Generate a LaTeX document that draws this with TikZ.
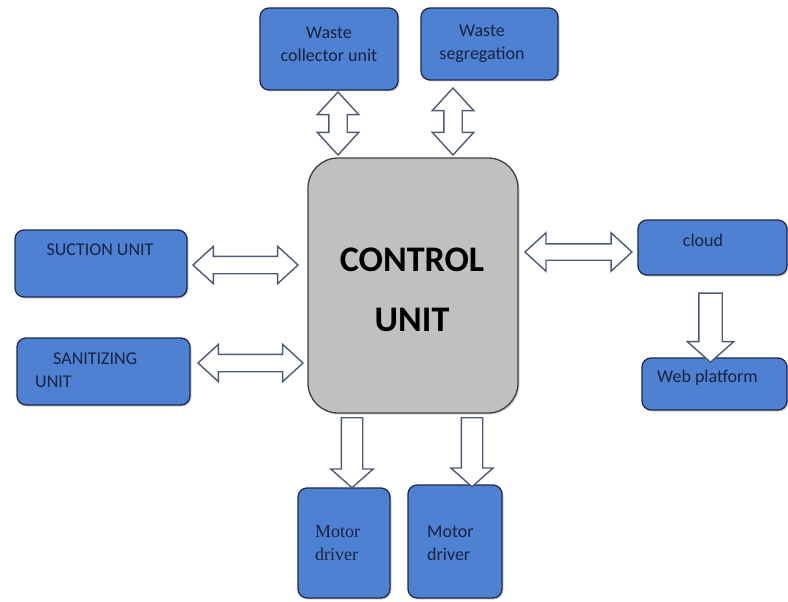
\documentclass[tikz,border=0pt]{standalone}
\usepackage{fontspec}
\setmainfont{Carlito}
\newfontfamily\serifrm{Liberation Serif}
\usetikzlibrary{shapes.arrows,shadows}

\definecolor{boxblue}{RGB}{79,129,210}
\definecolor{boxline}{RGB}{30,42,72}
\definecolor{textnavy}{RGB}{24,34,66}
\definecolor{arrowline}{RGB}{78,92,112}
\definecolor{ctrlgray}{RGB}{192,192,192}

\tikzset{
  unitbox/.style={draw=boxline,fill=boxblue,line width=1.3pt,rounded corners=9pt,
    drop shadow={opacity=0.35,shadow xshift=1.5pt,shadow yshift=-1.5pt}},
  unittext/.style={text=textnavy,inner sep=0pt,align=center,
    font=\fontsize{18}{23}\selectfont},
  biarrow/.style={double arrow,draw=arrowline,fill=white,line width=1.4pt,
    double arrow tip angle=85},
  downarrow/.style={single arrow,draw=arrowline,fill=white,line width=1.4pt,
    single arrow tip angle=97,shape border rotate=270}
}

\begin{document}
\begin{tikzpicture}[x=1pt,y=-1pt]
  \useasboundingbox (0,0) rectangle (788,602);

  % blocks
  \node[unitbox,minimum width=138pt,minimum height=82pt] (wcu) at (329,49) {};
  \node[unitbox,minimum width=137pt,minimum height=72pt] (wsg) at (489.5,44) {};
  \node[unitbox,minimum width=172pt,minimum height=67pt] (suc) at (101,263.5) {};
  \node[unitbox,minimum width=173pt,minimum height=67pt] (san) at (103.5,371.5) {};
  \node[unitbox,minimum width=149pt,minimum height=55pt] (cld) at (712.5,247.5) {};
  \node[unitbox,minimum width=145pt,minimum height=52pt] (web) at (714.5,384) {};
  \node[unitbox,minimum width=92pt,minimum height=110pt] (md1) at (344,543) {};
  \node[unitbox,minimum width=94pt,minimum height=113pt] (md2) at (455,541.5) {};
  \node[draw=black!75,fill=ctrlgray,line width=1.3pt,rounded corners=30pt,
    minimum width=210pt,minimum height=255pt,
    drop shadow={opacity=0.35,shadow xshift=1.5pt,shadow yshift=-1.5pt}] (cu) at (413,285.5) {};

  % labels
  \node[unittext] (wcu-txt) at (329,44) {Waste\\collector unit};
  \node[unittext] (wsg-txt) at (482,44) {Waste\\segregation};
  \node[unittext] (suc-txt) at (100,250) {SUCTION UNIT};
  \node[unittext,align=left,anchor=west] (san-txt) at (35,370) {\hspace*{18pt}SANITIZING\\UNIT};
  \node[unittext] (cld-txt) at (703,240) {cloud};
  \node[unittext,anchor=west] (web-txt) at (657,378) {Web platform};
  \node[unittext,align=left,anchor=west,font=\serifrm\fontsize{18}{23}\selectfont] (md1-txt) at (315,543) {Motor\\driver};
  \node[unittext,align=left,anchor=west] (md2-txt) at (427,543) {Motor\\driver};
  \node[inner sep=0pt,align=center,font=\bfseries\fontsize{36}{60}\selectfont] (cu-txt) at (412,290) {CONTROL\\UNIT};

  % block arrows
  \node[biarrow,shape border rotate=90,minimum height=63pt,inner sep=8.5pt,
    double arrow head extend=11.5pt] (ar-wcu) at (338,123.5) {};
  \node[biarrow,shape border rotate=90,minimum height=67pt,inner sep=8.5pt,
    double arrow head extend=11.5pt] (ar-wsg) at (453,121.5) {};
  \node[biarrow,minimum height=105pt,inner sep=8pt,
    double arrow head extend=10pt] (ar-suc) at (245.5,265) {};
  \node[biarrow,minimum height=105pt,inner sep=8pt,
    double arrow head extend=10pt] (ar-san) at (250.5,363) {};
  \node[biarrow,minimum height=107pt,inner sep=7.5pt,
    double arrow head extend=11pt] (ar-cld) at (578.5,252) {};
  \node[downarrow,minimum height=69pt,inner sep=11pt,
    single arrow head extend=11.5pt] (ar-web) at (710.5,322.5) {};
  \node[downarrow,minimum height=70pt,inner sep=10pt,
    single arrow head extend=10.5pt] (ar-md1) at (352,448) {};
  \node[downarrow,minimum height=69pt,inner sep=10pt,
    single arrow head extend=10.5pt] (ar-md2) at (472,447.5) {};
\end{tikzpicture}
\end{document}
